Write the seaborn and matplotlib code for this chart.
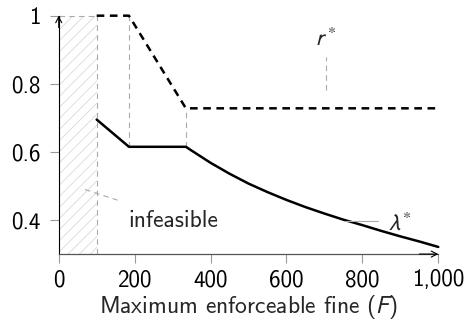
import matplotlib
matplotlib.use('Agg')
import matplotlib.pyplot as plt
import seaborn as sns
import pandas as pd

# ---- data ----
F_r = [100, 185, 335, 1000]
r_star = [1.0, 1.0, 0.728, 0.728]
F_lam = [100, 185, 335, 350, 400, 450, 500, 550, 600, 650, 700, 750, 800, 850, 900, 950, 1000]
lam_star = [0.695, 0.615, 0.615, 0.604, 0.568, 0.536, 0.507, 0.482, 0.459, 0.438, 0.419,
            0.401, 0.385, 0.368, 0.352, 0.337, 0.321]
x_ticks = [0, 200, 400, 600, 800, 1000]
x_tick_labels = ['0', '200', '400', '600', '800', '1,000']
y_ticks = [0.4, 0.6, 0.8, 1.0]
y_tick_labels = ['0.4', '0.6', '0.8', '1']
F_min = 100
kinks = [185, 335]

sns.set_theme(style='ticks')
plt.rcParams['font.family'] = ['cmss10', 'DejaVu Sans']
plt.rcParams['mathtext.fontset'] = 'stixsans'
plt.rcParams['axes.unicode_minus'] = False
plt.rcParams['lines.scale_dashes'] = False
plt.rcParams['hatch.linewidth'] = 0.5

FS = 16.6
FSL = 17.0
fig = plt.figure(figsize=(4.69, 3.2), dpi=100)
ax = fig.add_axes([0.1252, 0.206, 0.8093, 0.745])

# infeasible region hatch
ax.fill_between([0, F_min], 0.3, 1.0, facecolor='none', edgecolor='#d2d2d2',
                hatch='///', linewidth=0)

guide = dict(color='#aaaaaa', lw=0.8, linestyle=(0, (4, 3)), clip_on=False)
ax.plot([F_min, F_min], [0.3, 1.0], **guide)
ax.plot([0, F_min], [1.0, 1.0], **guide)
ax.plot([kinks[0], kinks[0]], [lam_star[1], r_star[1]], **guide)
ax.plot([kinks[1], kinks[1]], [lam_star[2], r_star[2]], **guide)

df_r = pd.DataFrame({'F': F_r, 'v': r_star})
df_l = pd.DataFrame({'F': F_lam, 'v': lam_star})
sns.lineplot(data=df_r, x='F', y='v', ax=ax, color='black', lw=1.8, errorbar=None)
ln_r = ax.lines[-1]
ln_r.set_linestyle((0, (5.5, 4.0)))
ln_r.set_clip_on(False)
sns.lineplot(data=df_l, x='F', y='v', ax=ax, color='black', lw=1.8, errorbar=None)
ax.lines[-1].set_clip_on(False)

# pins and labels
ax.plot([705, 705], [0.782, 0.879], **guide)
ax.text(704, 0.910, '$r^*$', ha='center', va='baseline', fontsize=FS)
ax.plot([753, 841], [0.397, 0.397], color='#aaaaaa', lw=0.8, clip_on=False)
ax.text(898, 0.3725, r'$\lambda^*$', ha='center', va='baseline', fontsize=FS)
ax.plot([69, 155], [0.4896, 0.4583], **guide)
ax.text(302, 0.379, 'infeasible', ha='center', va='baseline', fontsize=FSL)

ax.set_xlim(0, 1000)
ax.set_ylim(0.3, 1.0)
ax.set_xticks(x_ticks)
ax.set_xticklabels(x_tick_labels)
ax.set_yticks(y_ticks)
ax.set_yticklabels(y_tick_labels)
ax.tick_params(direction='out', length=6.5, width=0.8, color='#999999',
               labelsize=FS, labelcolor='black')
ax.tick_params(axis='y', pad=6.5)
ax.tick_params(axis='x', pad=4.5)
ax.set_xlabel('Maximum enforceable fine ($F$)', fontsize=FSL, labelpad=1.5)
ax.set_ylabel('')

for s in ['top', 'right']:
    ax.spines[s].set_visible(False)
ax.spines['left'].set_color('black')
ax.spines['left'].set_linewidth(0.8)
ax.spines['bottom'].set_color('#555555')
ax.spines['bottom'].set_linewidth(0.9)

arrow = dict(arrowstyle='->,head_length=0.35,head_width=0.18', color='black', lw=0.8,
             shrinkA=0, shrinkB=0)
ax.annotate('', xy=(0, 1), xytext=(0, 0.95), xycoords='axes fraction', arrowprops=arrow)
ax.annotate('', xy=(1, 0), xytext=(0.95, 0), xycoords='axes fraction', arrowprops=arrow)

fig.savefig('out.png', dpi=100)
